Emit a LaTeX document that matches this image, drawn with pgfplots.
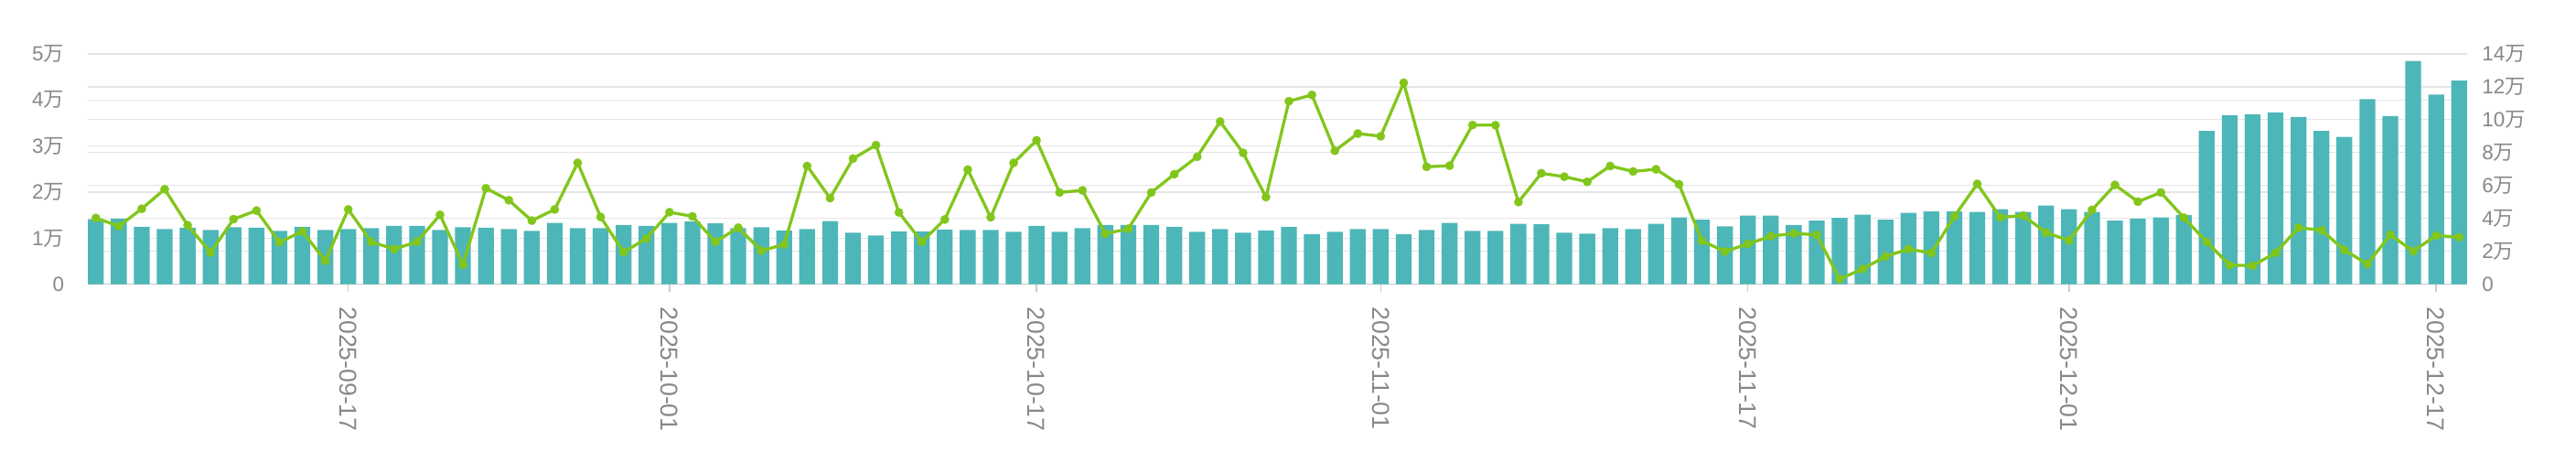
\documentclass[border=0pt]{standalone}
\usepackage{fontspec}
\setmainfont{Liberation Sans}
\newfontfamily\cjk{Noto Sans CJK SC}
\usepackage{pgfplots}
\pgfplotsset{compat=1.18}
\usepackage{pgfplotstable}

\definecolor{barcol}{HTML}{4DB6B8}
\definecolor{linecol}{HTML}{82C61C}
\definecolor{txtcol}{HTML}{888888}
\definecolor{gridcol}{HTML}{E5E5E5}
\definecolor{basecol}{HTML}{CCCCCC}

% daily values, index 0 = 2025-09-06
\pgfplotstableread{
x y
0 1.41
1 1.42
2 1.25
3 1.20
4 1.23
5 1.18
6 1.24
7 1.23
8 1.16
9 1.25
10 1.18
11 1.20
12 1.22
13 1.27
14 1.27
15 1.18
16 1.24
17 1.23
18 1.20
19 1.16
20 1.33
21 1.22
22 1.22
23 1.29
24 1.27
25 1.33
26 1.36
27 1.32
28 1.22
29 1.24
30 1.17
31 1.20
32 1.37
33 1.12
34 1.06
35 1.15
36 1.15
37 1.19
38 1.18
39 1.18
40 1.14
41 1.27
42 1.14
43 1.22
44 1.29
45 1.29
46 1.29
47 1.25
48 1.14
49 1.20
50 1.12
51 1.17
52 1.25
53 1.09
54 1.14
55 1.20
56 1.20
57 1.09
58 1.18
59 1.33
60 1.16
61 1.16
62 1.31
63 1.30
64 1.12
65 1.10
66 1.22
67 1.20
68 1.31
69 1.45
70 1.40
71 1.26
72 1.49
73 1.49
74 1.29
75 1.38
76 1.44
77 1.51
78 1.40
79 1.55
80 1.58
81 1.58
82 1.57
83 1.63
84 1.57
85 1.71
86 1.63
87 1.57
88 1.38
89 1.42
90 1.45
91 1.50
92 3.33
93 3.67
94 3.69
95 3.73
96 3.63
97 3.33
98 3.20
99 4.02
100 3.65
101 4.85
102 4.12
103 4.42
}\bardata

\pgfplotstableread{
x y
0 4.03
1 3.53
2 4.59
3 5.78
4 3.59
5 1.93
6 3.96
7 4.48
8 2.55
9 3.22
10 1.43
11 4.55
12 2.58
13 2.14
14 2.58
15 4.22
16 1.19
17 5.84
18 5.11
19 3.87
20 4.55
21 7.38
22 4.09
23 1.95
24 2.79
25 4.38
26 4.13
27 2.58
28 3.44
29 2.04
30 2.42
31 7.19
32 5.24
33 7.64
34 8.46
35 4.37
36 2.58
37 3.94
38 6.97
39 4.07
40 7.38
41 8.75
42 5.58
43 5.71
44 3.07
45 3.38
46 5.58
47 6.69
48 7.75
49 9.89
50 7.99
51 5.30
52 11.13
53 11.51
54 8.12
55 9.16
56 9.00
57 12.25
58 7.14
59 7.21
60 9.68
61 9.67
62 5.00
63 6.75
64 6.54
65 6.23
66 7.19
67 6.86
68 6.99
69 6.08
70 2.64
71 1.99
72 2.45
73 2.92
74 3.09
75 3.01
76 0.32
77 0.93
78 1.69
79 2.14
80 1.90
81 4.13
82 6.10
83 4.07
84 4.18
85 3.14
86 2.66
87 4.52
88 6.04
89 5.02
90 5.58
91 4.05
92 2.57
93 1.17
94 1.13
95 1.91
96 3.44
97 3.29
98 2.08
99 1.23
100 3.01
101 2.01
102 2.97
103 2.86
}\linedata

\pgfplotsset{
  base/.style={
    scale only axis,
    width=1300.5pt, height=125.85pt,
    at={(48pt,97.65pt)}, anchor=south west,
    xmin=-0.35, xmax=103.35,
    ymin=0,
    clip=false,
    grid style={color=gridcol, line width=0.6pt},
    ticklabel style={font=\fontsize{11.2}{13}\selectfont, text=txtcol},
  },
}

\begin{document}
\begin{tikzpicture}
\path[use as bounding box] (0,0) rectangle (1408pt,253pt);

% right axis: grid and labels only
\begin{axis}[base,
    ymax=14,
    axis x line=none,
    axis y line*=right,
    y axis line style={draw=none},
    ytick={0,2,4,6,8,10,12,14},
    yticklabels={0,2{\cjk 万},4{\cjk 万},6{\cjk 万},8{\cjk 万},10{\cjk 万},12{\cjk 万},14{\cjk 万}},
    ytick style={draw=none},
    yticklabel style={anchor=west, inner xsep=0pt, xshift=8pt},
    ymajorgrids=true,
    xtick=\empty,
]
\end{axis}

% left axis: bars
\begin{axis}[base,
    ymax=5,
    ybar, bar width=8.65pt,
    axis x line*=bottom,
    axis y line*=left,
    x axis line style={color=basecol, line width=0.7pt},
    y axis line style={draw=none},
    ytick={0,1,2,3,4,5},
    yticklabels={0,1{\cjk 万},2{\cjk 万},3{\cjk 万},4{\cjk 万},5{\cjk 万}},
    ytick style={draw=none},
    yticklabel style={anchor=east, inner xsep=0pt, xshift=-8.8pt},
    ymajorgrids=true,
    xtick={11,25,41,56,72,86,102},
    xticklabels={2025-09-17,2025-10-01,2025-10-17,2025-11-01,2025-11-17,2025-12-01,2025-12-17},
    tick align=outside,
    major tick length=4pt,
    xtick style={color=basecol, line width=0.7pt},
    xticklabel shift=8.2pt,
    xticklabel style={rotate=-90, anchor=west, inner sep=0pt, font=\fontsize{13.3}{15}\selectfont},
]
\addplot[fill=barcol, draw=none] table[x=x, y=y] {\bardata};
\end{axis}

% right axis: line
\begin{axis}[base,
    ymax=14,
    hide axis,
]
\addplot[color=linecol, line width=1.65pt, mark=*, mark size=2.3pt,
    mark options={fill=linecol, draw=linecol, line width=0.2pt}]
    table[x=x, y=y] {\linedata};
\end{axis}
\end{tikzpicture}
\end{document}
